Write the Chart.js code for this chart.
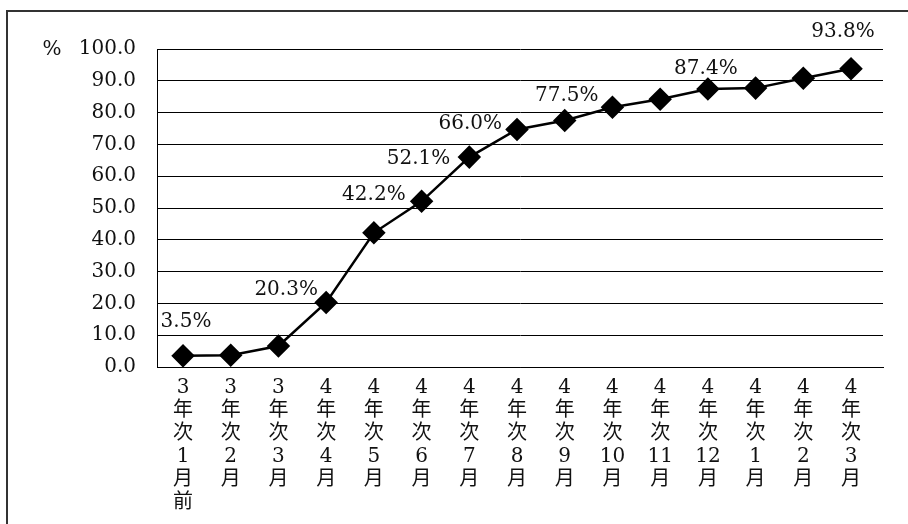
<!DOCTYPE html>
<html>
<head>
<meta charset="utf-8">
<script src="https://cdn.jsdelivr.net/npm/chart.js@4/dist/chart.umd.min.js"></script>
<style>
  html, body { margin: 0; padding: 0; background: #fff; }
  #wrap { width: 908px; height: 524px; }
</style>
</head>
<body>
<div id="wrap"><canvas id="myChart" width="908" height="524"></canvas></div>
<script>
'use strict';

// x categories (stacked vertically like the original)
const categories = [
  ['3', '年', '次', '1', '月', '前'],
  ['3', '年', '次', '2', '月'],
  ['3', '年', '次', '3', '月'],
  ['4', '年', '次', '4', '月'],
  ['4', '年', '次', '5', '月'],
  ['4', '年', '次', '6', '月'],
  ['4', '年', '次', '7', '月'],
  ['4', '年', '次', '8', '月'],
  ['4', '年', '次', '9', '月'],
  ['4', '年', '次', '10', '月'],
  ['4', '年', '次', '11', '月'],
  ['4', '年', '次', '12', '月'],
  ['4', '年', '次', '1', '月'],
  ['4', '年', '次', '2', '月'],
  ['4', '年', '次', '3', '月']
];

const rates = [3.5, 3.7, 6.6, 20.3, 42.2, 52.1, 66.0, 74.7, 77.5, 81.7, 84.2, 87.4, 87.7, 90.8, 93.8];

// points that carry a value label
const labelledPoints = [0, 3, 4, 5, 6, 8, 11, 14];

const yTicks = [0, 10, 20, 30, 40, 50, 60, 70, 80, 90, 100];
const yUnit = '%';

// label nudges (px) relative to the marker, hand placed like the original
const labelNudge = {
  0: [3, -34], 3: [-40, -13], 4: [0, -38], 5: [-3, -43],
  6: [1, -33], 8: [2, -25], 11: [-2, -20], 14: [-8, -37]
};

const FONT = '"DejaVu Serif", "Noto Sans CJK JP", serif';

const framePlugin = {
  id: 'frame',
  beforeDraw(chart) {
    const ctx = chart.ctx;
    ctx.save();
    ctx.fillStyle = '#fff';
    ctx.fillRect(0, 0, chart.width, chart.height);
    ctx.strokeStyle = '#333';
    ctx.lineWidth = 2;
    ctx.strokeRect(7, 11, 1000, 1000);
    ctx.restore();
  },
  afterDraw(chart) {
    const ctx = chart.ctx;
    const y = chart.scales.y;
    ctx.save();
    ctx.font = '20px ' + FONT;
    ctx.fillStyle = '#111';
    ctx.textAlign = 'center';
    ctx.textBaseline = 'middle';
    ctx.fillText(yUnit, 52, y.getPixelForValue(100) + 1);
    ctx.restore();
  }
};

const valueLabels = {
  id: 'valueLabels',
  afterDatasetsDraw(chart) {
    const ctx = chart.ctx;
    const meta = chart.getDatasetMeta(0);
    ctx.save();
    ctx.font = '20px ' + FONT;
    ctx.fillStyle = '#111';
    ctx.textAlign = 'center';
    ctx.textBaseline = 'middle';
    labelledPoints.forEach(i => {
      const pt = meta.data[i];
      const nudge = labelNudge[i] || [0, -30];
      ctx.fillText(rates[i].toFixed(1) + '%', pt.x + nudge[0], pt.y + nudge[1]);
    });
    ctx.restore();
  }
};

const ctx = document.getElementById('myChart').getContext('2d');

let config = {
  type: 'line',
  data: {
    datasets: [{
      data: rates.map((v, i) => ({ x: i, y: v })),
      borderColor: '#000',
      borderWidth: 2.5,
      backgroundColor: '#000',
      pointStyle: 'rectRot',
      pointRadius: 10,
      pointHoverRadius: 10,
      pointBackgroundColor: '#000',
      pointBorderColor: '#000',
      tension: 0
    }]
  },
  options: {
    responsive: false,
    animation: false,
    events: [],
    layout: { padding: { top: 49, right: 25, left: 0, bottom: 0 } },
    plugins: {
      legend: { display: false },
      tooltip: { enabled: false },
      title: { display: false }
    },
    scales: {
      x: {
        type: 'linear',
        min: -0.545,
        max: 14.67,
        grid: { display: false, drawTicks: false },
        border: { display: true, color: '#000', width: 1 },
        afterBuildTicks(scale) {
          scale.ticks = categories.map((c, i) => ({ value: i }));
        },
        ticks: {
          autoSkip: false,
          maxRotation: 0,
          minRotation: 0,
          padding: 9,
          color: '#111',
          font: { family: FONT, size: 20, lineHeight: 1.15 },
          callback: v => categories[v]
        },
        afterFit(scale) { scale.height = 157; }
      },
      y: {
        min: 0,
        max: 100,
        afterBuildTicks(scale) {
          scale.ticks = yTicks.map(v => ({ value: v }));
        },
        grid: { color: '#000', lineWidth: 1, drawTicks: false },
        border: { display: true, color: '#000', width: 1 },
        ticks: {
          padding: 21,
          color: '#111',
          font: { family: FONT, size: 20 },
          callback: v => v.toFixed(1)
        },
        afterFit(scale) { scale.width = 157; }
      }
    }
  },
  plugins: [framePlugin, valueLabels]
};

const myChart = new Chart(ctx, config);
</script>
</body>
</html>
